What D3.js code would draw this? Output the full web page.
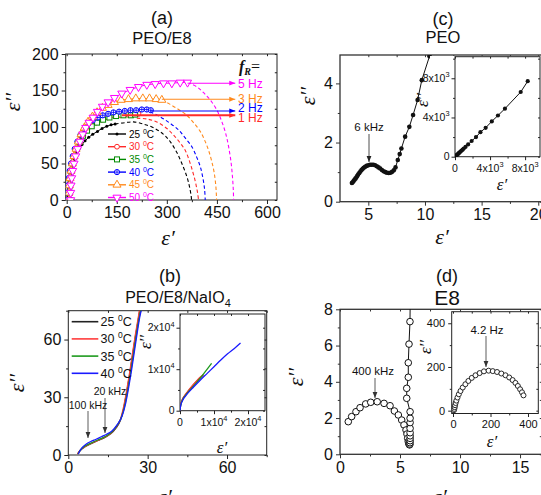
<!DOCTYPE html>
<html><head><meta charset="utf-8">
<script src="https://cdn.jsdelivr.net/npm/d3@7"></script>
<style>body{margin:0;background:#fff}svg{display:block}</style>
</head><body>
<svg id="c" width="541" height="495"></svg>
<script>
// ---------------- DATA ----------------
// Panel (a) PEO/E8 : eps' , eps'' per temperature
const tempsA = ["25", "30", "35", "40", "45", "50"];
const a25 = [[3,0],[3,6],[4,12],[5,18],[6,24],[8,30],[10,36],[13,42],[16,48],[20,54],[25,60],[31,66],[38,71],[46,76],[55,81],[66,86],[78,90],[92,94],[106,98],[120,101],[133,103],[145,104]];
const a30 = [[6,0],[6,10],[7,20],[9,30],[12,40],[16,50],[21,60],[28,70],[36,80],[46,88],[58,95],[72,101],[88,106],[105,110],[123,113],[142,115],[162,116],[182,117],[202,118],[215,118]];
const a35 = [[9,0],[9,10],[10,20],[12,30],[15,40],[19,50],[24,60],[31,70],[39,80],[49,88],[61,95],[75,101],[91,106],[109,110],[128,113],[148,115],[170,116],[192,116],[205,117]];
const a40 = [[2,0],[2,10],[4,20],[6,30],[9,40],[13,50],[18,60],[24,70],[32,80],[41,89],[52,97],[64,104],[78,109],[93,113],[108,116],[124,118],[140,120],[157,121],[174,122],[191,123],[208,123],[225,124],[240,124],[252,123]];
const a45 = [[7,0],[7,10],[8,20],[10,30],[13,40],[17,50],[22,60],[28,70],[35,80],[43,90],[53,99],[64,107],[77,114],[91,120],[107,126],[124,130],[143,134],[163,137],[185,138],[207,139],[228,139],[248,139],[268,138],[285,137]];
const a50 = [[12,0],[12,10],[13,20],[15,30],[18,40],[22,50],[27,60],[33,70],[40,80],[48,90],[57,99],[67,106],[79,113],[92,121],[107,128],[124,134],[143,140],[165,146],[190,151],[215,155],[240,158],[265,159],[290,160],[315,160],[340,161],[362,161]];
// dashed semicircle fits
const arc25 = [[145,104],[175,106],[200,107],[230,104],[260,99],[290,90],[310,80],[330,65],[345,50],[360,32],[368,18],[373,5],[374,0]];
const arc30 = [[210,112],[240,111],[270,107],[300,98],[320,89],[340,78],[355,68],[368,53],[378,38],[386,24],[392,10],[395,0]];
const arc40 = [[250,121],[280,114],[310,105],[335,96],[355,85],[375,73],[390,58],[400,46],[408,30],[413,15],[415,0]];
const arc45 = [[285,137],[310,131],[335,124],[360,116],[380,106],[400,94],[415,80],[425,68],[435,52],[442,37],[447,18],[449,0]];
const arc50 = [[362,161],[390,155],[410,147],[430,137],[450,123],[465,107],[477,90],[485,73],[492,53],[496,35],[499,15],[500,0]];
// relaxation-frequency arrows
const fLabels = ["1 Hz", "2 Hz", "3 Hz", "5 Hz"];
const fLevels = [116, 122, 138, 160];
const fStart  = [165, 250, 285, 362];

// Panel (b) PEO/E8/NaIO4
const tempsB = ["25", "30", "35", "40"];
const b25 = [[3.5,0.5],[4,1.5],[5,3],[6,4],[8,5.5],[10,6.8],[12,8],[14,9.3],[16,11],[18,14],[19.7,18],[20.9,24],[22,32],[23.1,41],[24.2,51],[25.3,61],[26.4,70],[27.1,76]];
const b30 = [[3.5,0.5],[4,1.6],[5,3.1],[6,4.1],[8,5.6],[10,6.9],[12,8.1],[14,9.4],[16,11.2],[18,14.3],[19.7,18.5],[20.9,25],[22,33],[23.1,42],[24.2,52],[25.3,62],[26.4,71],[27,76]];
const b35 = [[3.7,0.5],[4.2,1.8],[5.2,3.5],[6.5,4.8],[8.5,6.2],[10.5,7.4],[12.5,8.6],[14.5,10],[16.5,12],[18.5,15.5],[20.2,20],[21.4,26],[22.5,34],[23.6,43],[24.7,53],[25.8,63],[26.9,72],[27.5,76]];
const b40 = [[3.8,0.5],[4.3,2],[5.3,4],[6.7,5.6],[8.5,7],[10.5,8.2],[12.5,9.5],[14.5,10.8],[16.5,12.5],[18.5,15.8],[20.4,20.5],[21.7,27],[22.8,35],[23.9,44],[25,54],[26.1,64],[27.2,73],[27.8,76]];
const bi25 = [[0,0],[150,1200],[400,2000],[800,2800],[1500,3700],[2500,4800],[3500,5800],[4800,7000],[6000,8000],[6800,8600]];
const bi30 = [[0,0],[150,1300],[400,2100],[800,2900],[1500,3800],[2500,4900],[3500,5900],[4800,7100],[6000,8100],[6900,8700]];
const bi35 = [[0,0],[150,1100],[400,1900],[800,2700],[1500,3600],[2500,4600],[3500,5500],[5000,6900],[6500,8400],[8000,10000],[9300,11400]];
const bi40 = [[0,0],[150,1000],[400,1800],[800,2500],[1500,3400],[2500,4400],[4000,5700],[6000,7400],[8000,9000],[10000,10600],[12000,12200],[14000,13700],[16000,15000],[17800,16300]];

// Panel (c) PEO
const cMain = [[3.55,0.63],[3.62,0.66],[3.7,0.7],[3.78,0.74],[3.86,0.78],[3.94,0.82],[4.02,0.87],[4.1,0.92],[4.2,0.97],[4.3,1.02],[4.4,1.07],[4.5,1.11],[4.6,1.15],[4.72,1.18],[4.85,1.21],[5.0,1.23],[5.15,1.25],[5.3,1.25],[5.45,1.25],[5.6,1.23],[5.75,1.2],[5.9,1.16],[6.05,1.12],[6.2,1.07],[6.35,1.03],[6.5,1.0],[6.65,0.98],[6.8,0.97],[6.95,0.98],[7.1,1.01],[7.25,1.06],[7.4,1.16],[7.6,1.41],[7.77,1.61],[7.92,1.8],[8.25,2.2],[8.62,2.53],[8.95,2.93],[9.35,3.44],[9.72,4.11],[10.4,4.92]];
const cInset = [[0,0],[60,50],[120,100],[180,150],[250,200],[320,260],[400,330],[480,400],[570,470],[660,550],[760,630],[870,720],[1000,830],[1200,1000],[1500,1250],[1900,1600],[2400,2000],[2900,2500],[3500,2950],[4200,3600],[4900,4200],[5700,4900],[7500,6600],[8300,7700]];

// Panel (d) E8
const dMain = [[0.69,1.8],[0.97,2.08],[1.33,2.35],[1.67,2.57],[2.14,2.78],[2.56,2.87],[3.1,2.9],[3.67,2.81],[4.17,2.68],[4.53,2.39],[4.86,2.17],[5.14,1.89],[5.33,1.62],[5.5,1.34],[5.58,1.12],[5.64,0.88],[5.69,0.7],[5.73,0.6],[5.77,0.54],[5.8,0.52],[5.82,0.56],[5.83,0.64],[5.84,0.75],[5.84,0.88],[5.84,1.02],[5.84,1.19],[5.84,1.43],[5.84,1.75],[5.84,1.99],[5.84,2.35],[5.56,3.09],[5.56,3.64],[5.69,4.25],[5.69,5.05],[5.75,6.08],[5.83,7.32],[5.86,9.0]];
const dInset = [[5,2],[7,8],[9,16],[11,25],[14,35],[18,46],[24,60],[31,75],[40,90],[52,106],[66,121],[82,136],[100,150],[120,162],[142,172],[165,180],[190,183],[212,181],[235,177],[258,170],[280,162],[300,152],[318,140],[333,127],[346,113],[358,98],[368,84],[376,70]];

// ---------------- DRAWING ----------------
const svg = d3.select("#c");
const SANS = "'Liberation Sans', Arial, sans-serif";
const SERIF = "'Liberation Serif', 'Times New Roman', serif";
const defs = svg.append("defs");

function arrowMarker(id, color, s) {
  defs.append("marker").attr("id", id).attr("viewBox", "0 0 10 10").attr("refX", 10).attr("refY", 5)
    .attr("markerWidth", s).attr("markerHeight", s).attr("orient", "auto").attr("markerUnits", "userSpaceOnUse")
    .append("path").attr("d", "M0,1 L10,5 L0,9 Z").attr("fill", color);
}

function sci(v) {
  if (v === 0) return ["0", null];
  const e = Math.floor(Math.log10(v) + 1e-9);
  return [Math.round(v / Math.pow(10, e)) + "x10", String(e)];
}

function panel(o) {
  const x = d3.scaleLinear().domain(o.xd).range([o.L, o.R]);
  const y = d3.scaleLinear().domain(o.yd).range([o.B, o.T]);
  const g = svg.append("g");
  defs.append("clipPath").attr("id", "clip" + o.id).append("rect")
    .attr("x", o.L).attr("y", o.T).attr("width", o.R - o.L).attr("height", o.B - o.T);
  const tl = o.tl, ml = o.tl * 0.55, col = o.col || "#222";
  const fmt = o.sci ? () => "" : d3.format("d");
  const style = (sel) => {
    sel.select(".domain").remove();
    sel.selectAll("line").attr("stroke", col).attr("stroke-width", 1);
    sel.selectAll("text").attr("font-size", o.fs).attr("font-family", SANS).attr("fill", "#111");
  };
  const A = (axis, tv, size, f) => axis.tickValues(tv).tickSizeInner(size).tickSizeOuter(0).tickPadding(o.pad || 3).tickFormat(f);
  g.append("g").attr("transform", `translate(0,${o.B})`).call(A(d3.axisBottom(x), o.xt, tl, fmt)).call(style);
  g.append("g").attr("transform", `translate(0,${o.B})`).call(A(d3.axisBottom(x), o.xm, ml, () => "")).call(style);
  g.append("g").attr("transform", `translate(${o.L},0)`).call(A(d3.axisLeft(y), o.yt, tl, fmt)).call(style);
  g.append("g").attr("transform", `translate(${o.L},0)`).call(A(d3.axisLeft(y), o.ym, ml, () => "")).call(style);
  g.append("g").attr("transform", `translate(0,${o.T})`).call(A(d3.axisTop(x), o.xt.concat(o.xm), -ml, () => "")).call(style);
  g.append("g").attr("transform", `translate(${o.R},0)`).call(A(d3.axisRight(y), o.yt.concat(o.ym), -ml, () => "")).call(style);
  if (o.sci) {
    o.xt.forEach(v => {
      const [m, e] = sci(v);
      const t = g.append("text").attr("x", x(v)).attr("y", o.B + tl + o.fs + 1).attr("text-anchor", "middle")
        .attr("font-size", o.fs).attr("font-family", SANS).attr("fill", "#111");
      t.append("tspan").text(m);
      if (e) t.append("tspan").attr("dy", -o.fs * 0.45).attr("font-size", o.fs * 0.7).text(e);
    });
    o.yt.forEach(v => {
      const [m, e] = sci(v);
      const t = g.append("text").attr("x", o.L - tl - 2).attr("y", y(v) + o.fs * 0.35).attr("text-anchor", "end")
        .attr("font-size", o.fs).attr("font-family", SANS).attr("fill", "#111");
      t.append("tspan").text(m);
      if (e) t.append("tspan").attr("dy", -o.fs * 0.45).attr("font-size", o.fs * 0.7).text(e);
    });
  }
  g.append("rect").attr("x", o.L).attr("y", o.T).attr("width", o.R - o.L).attr("height", o.B - o.T)
    .attr("fill", "none").attr("stroke", col).attr("stroke-width", o.fw || 1);
  const plot = g.append("g").attr("clip-path", `url(#clip${o.id})`);
  return { x, y, g, plot };
}

function label(txt, xx, yy, size, rot, opts = {}) {
  const t = svg.append("text").attr("x", xx).attr("y", yy).attr("text-anchor", "middle")
    .attr("font-size", size).attr("font-family", opts.family || SANS).attr("fill", "#111")
    .attr("font-style", opts.italic ? "italic" : "normal");
  if (rot) t.attr("transform", `rotate(${rot},${xx},${yy})`);
  t.text(txt);
  return t;
}
const EPP = "\u03B5\u2032\u2032", EP = "\u03B5\u2032";
const TF = 16; // main tick font

// ---------- Panel (a) ----------
{
  const P = panel({ id: "a", L: 65.7, R: 277, T: 54, B: 200, xd: [-3, 630], yd: [0, 200],
    xt: [0, 150, 300, 450, 600], xm: [75, 225, 375, 525], yt: [0, 50, 100, 150, 200], ym: [25, 75, 125, 175], tl: 4, fs: TF });
  const { x, y, plot } = P;
  const colors = ["#000000", "#ff2a2a", "#008a00", "#0000ff", "#ff8a1c", "#ff00ff"];
  const series = [a25, a30, a35, a40, a45, a50];
  const arcs = [[arc25, 0], [arc30, 1], [arc40, 3], [arc45, 4], [arc50, 5]];
  const line = d3.line().x(d => x(d[0])).y(d => y(d[1]));
  const cline = d3.line().x(d => x(d[0])).y(d => y(d[1])).curve(d3.curveCatmullRom);
  arcs.forEach(([pts, i]) => plot.append("path").attr("d", cline(pts)).attr("fill", "none")
    .attr("stroke", colors[i]).attr("stroke-width", 1.1).attr("stroke-dasharray", "3.5,2.5"));
  const fCol = [colors[1], colors[3], colors[4], colors[5]];
  fLevels.forEach((lv, i) => {
    arrowMarker("am" + i, fCol[i], 6);
    svg.append("line").attr("x1", x(fStart[i])).attr("x2", x(505)).attr("y1", y(lv)).attr("y2", y(lv))
      .attr("stroke", fCol[i]).attr("stroke-width", i === 0 ? 2 : 1.1).attr("marker-end", `url(#am${i})`);
  });
  const fTy = [117.5, 107.5, 99, 84];
  fLabels.forEach((t, i) => svg.append("text").attr("x", 238).attr("y", fTy[i] + 4.3).attr("font-size", 12)
    .attr("font-family", SANS).attr("fill", fCol[i]).text(t));
  const marker = (sel, i, cx, cy) => {
    const c = colors[i];
    if (i === 0) sel.append("circle").attr("cx", cx).attr("cy", cy).attr("r", 1.5).attr("fill", c);
    else if (i === 1) sel.append("circle").attr("cx", cx).attr("cy", cy).attr("r", 2.4).attr("fill", "white").attr("stroke", c);
    else if (i === 2) sel.append("rect").attr("x", cx - 2.5).attr("y", cy - 2.5).attr("width", 5).attr("height", 5).attr("fill", "white").attr("stroke", c);
    else if (i === 3) {
      sel.append("circle").attr("cx", cx).attr("cy", cy).attr("r", 2.6).attr("fill", "white").attr("stroke", c);
      sel.append("path").attr("d", `M${cx - 2.6},${cy}H${cx + 2.6}M${cx},${cy - 2.6}V${cy + 2.6}`).attr("stroke", c).attr("stroke-width", 0.8);
    } else if (i === 4) sel.append("path").attr("d", d3.symbol(d3.symbolTriangle, 28)()).attr("transform", `translate(${cx},${cy})`).attr("fill", "white").attr("stroke", c);
    else sel.append("path").attr("d", d3.symbol(d3.symbolTriangle, 28)()).attr("transform", `translate(${cx},${cy}) rotate(180)`).attr("fill", "white").attr("stroke", c);
  };
  series.forEach((s, i) => {
    plot.append("path").attr("d", line(s)).attr("fill", "none").attr("stroke", colors[i]).attr("stroke-width", 1);
  });
  series.forEach((s, i) => {
    const gg = plot.append("g");
    s.forEach(d => marker(gg, i, x(d[0]), y(d[1])));
  });
  const ly0 = 134, ldy = 12.7;
  tempsA.forEach((t, i) => {
    const yy = ly0 + i * ldy;
    svg.append("line").attr("x1", 108).attr("x2", 126).attr("y1", yy).attr("y2", yy).attr("stroke", colors[i]).attr("stroke-width", 1.4);
    marker(svg, i, 117, yy);
    const tx = svg.append("text").attr("x", 129).attr("y", yy + 3.5).attr("font-size", 10).attr("font-family", SANS).attr("fill", colors[i]);
    tx.append("tspan").text(t + " ");
    tx.append("tspan").attr("dy", -4).attr("font-size", 7).text("0");
    tx.append("tspan").attr("dy", 4).text("C");
  });
  const fr = svg.append("text").attr("x", 239).attr("y", 72).attr("font-size", 16).attr("font-family", SERIF)
    .attr("font-weight", "bold").attr("font-style", "italic").attr("fill", "#111");
  fr.append("tspan").text("f");
  fr.append("tspan").attr("dy", 3).attr("font-size", 10).text("R");
  fr.append("tspan").attr("dy", -3).attr("font-style", "normal").attr("font-weight", "normal").text("=");
  label("(a)", 162, 24, 18);
  label("PEO/E8", 162, 44, 16.5);
  label(EPP, 20, 102, 22, -90, { family: SERIF, italic: true });
  label(EP, 168, 245, 22, 0, { family: SERIF, italic: true });
}

// ---------- Panel (c) ----------
{
  const P = panel({ id: "c", L: 340, R: 542, T: 55, B: 201.7, xd: [2.5, 20.33], yd: [0, 4.96],
    xt: [5, 10, 15, 20], xm: [7.5, 12.5, 17.5], yt: [0, 2, 4], ym: [1, 3], tl: 4, fs: TF, col: "#333", fw: 1.3 });
  const { x, y, plot } = P;
  const line = d3.line().x(d => x(d[0])).y(d => y(d[1]));
  plot.append("path").attr("d", line(cMain)).attr("fill", "none").attr("stroke", "#111").attr("stroke-width", 1);
  plot.selectAll(null).data(cMain).join("circle").attr("cx", d => x(d[0])).attr("cy", d => y(d[1])).attr("r", 2.3).attr("fill", "#111");
  arrowMarker("ak", "#222", 6);
  svg.append("line").attr("x1", 369).attr("x2", 369).attr("y1", 134).attr("y2", 162).attr("stroke", "#222").attr("stroke-width", 0.8).attr("marker-end", "url(#ak)");
  label("6 kHz", 369, 131, 11.5);
  svg.append("rect").attr("x", 430).attr("y", 56).attr("width", 111).attr("height", 140).attr("fill", "white");
  const I = panel({ id: "ci", L: 455, R: 540, T: 56.7, B: 156.7, xd: [0, 9700], yd: [0, 10200],
    xt: [0, 4000, 8000], xm: [2000, 6000], yt: [0, 4000, 8000], ym: [2000, 6000, 10000], tl: 3.5, fs: 10.5, sci: true, col: "#222" });
  const il = d3.line().x(d => I.x(d[0])).y(d => I.y(d[1]));
  I.plot.append("path").attr("d", il(cInset)).attr("fill", "none").attr("stroke", "#111").attr("stroke-width", 1);
  I.plot.selectAll(null).data(cInset).join("circle").attr("cx", d => I.x(d[0])).attr("cy", d => I.y(d[1])).attr("r", 2.1).attr("fill", "#111");
  label(EPP, 428, 100, 17, -90, { family: SERIF, italic: true });
  label(EP, 502, 190, 17, 0, { family: SERIF, italic: true });
  label("(c)", 443, 25, 18);
  label("PEO", 443, 43, 16.5);
  label(EPP, 315, 96, 22, -90, { family: SERIF, italic: true });
  label(EP, 442, 244, 22, 0, { family: SERIF, italic: true });
}

// ---------- Panel (b) ----------
{
  const P = panel({ id: "b", L: 68.3, R: 266.7, T: 310.7, B: 455, xd: [0, 75], yd: [0, 75],
    xt: [0, 30, 60], xm: [15, 45, 75], yt: [0, 30, 60], ym: [15, 45, 75], tl: 4, fs: TF });
  const { x, y, plot } = P;
  const colors = ["#222222", "#ff3b3b", "#1e9a1e", "#1a1aff"];
  const line = d3.line().x(d => x(d[0])).y(d => y(d[1])).curve(d3.curveMonotoneX);
  [b25, b30, b35, b40].forEach((s, i) => plot.append("path").attr("d", line(s)).attr("fill", "none").attr("stroke", colors[i]).attr("stroke-width", 1.3));
  arrowMarker("ab", "#333", 6);
  svg.append("line").attr("x1", 88).attr("x2", 88).attr("y1", 411).attr("y2", 438).attr("stroke", "#333").attr("stroke-width", 0.8).attr("marker-end", "url(#ab)");
  svg.append("line").attr("x1", 105).attr("x2", 105).attr("y1", 398).attr("y2", 433).attr("stroke", "#333").attr("stroke-width", 0.8).attr("marker-end", "url(#ab)");
  label("100 kHz", 88, 409, 10.5);
  label("20 kHz", 110, 395, 10.5);
  tempsB.forEach((t, i) => {
    const yy = 321.7 + i * 17.2;
    svg.append("line").attr("x1", 71.7).attr("x2", 98.3).attr("y1", yy).attr("y2", yy).attr("stroke", colors[i]).attr("stroke-width", 1.6);
    const tx = svg.append("text").attr("x", 100.5).attr("y", yy + 4.5).attr("font-size", 12.5).attr("font-family", SANS).attr("fill", "#111");
    tx.append("tspan").text(t + " ");
    tx.append("tspan").attr("dy", -5).attr("font-size", 8.5).text("0");
    tx.append("tspan").attr("dy", 5).text("C");
  });
  const I = panel({ id: "bi", L: 180, R: 265, T: 314, B: 410.7, xd: [0, 25000], yd: [0, 23300],
    xt: [0, 10000, 20000], xm: [5000, 15000], yt: [0, 10000, 20000], ym: [5000, 15000], tl: 3.5, fs: 10.5, sci: true });
  const il = d3.line().x(d => I.x(d[0])).y(d => I.y(d[1])).curve(d3.curveMonotoneX);
  [bi25, bi30, bi35, bi40].forEach((s, i) => I.plot.append("path").attr("d", il(s)).attr("fill", "none").attr("stroke", colors[i]).attr("stroke-width", 1.3));
  label(EPP, 151, 342, 17, -90, { family: SERIF, italic: true });
  label(EP, 222, 453, 17, 0, { family: SERIF, italic: true });
  label("(b)", 170, 282, 18);
  const tt = svg.append("text").attr("x", 178).attr("y", 303).attr("text-anchor", "middle").attr("font-size", 16).attr("font-family", SANS).attr("fill", "#111");
  tt.append("tspan").text("PEO/E8/NaIO");
  tt.append("tspan").attr("dy", 4).attr("font-size", 11).text("4");
  label(EPP, 24, 383, 22, -90, { family: SERIF, italic: true });
  label(EP, 165, 504, 22, 0, { family: SERIF, italic: true });
}

// ---------- Panel (d) ----------
{
  const P = panel({ id: "d", L: 340, R: 542, T: 309.3, B: 454.3, xd: [0, 16.83], yd: [0, 8],
    xt: [0, 5, 10, 15], xm: [2.5, 7.5, 12.5], yt: [0, 2, 4, 6, 8], ym: [1, 3, 5, 7], tl: 4, fs: TF, col: "#333", fw: 1.3 });
  const { x, y, plot } = P;
  const line = d3.line().x(d => x(d[0])).y(d => y(d[1]));
  plot.append("path").attr("d", line(dMain)).attr("fill", "none").attr("stroke", "#111").attr("stroke-width", 1);
  plot.selectAll(null).data(dMain).join("circle").attr("cx", d => x(d[0])).attr("cy", d => y(d[1])).attr("r", 3.3)
    .attr("fill", "white").attr("stroke", "#111").attr("stroke-width", 1);
  arrowMarker("ad", "#333", 6);
  svg.append("line").attr("x1", 375).attr("x2", 375).attr("y1", 378).attr("y2", 398).attr("stroke", "#333").attr("stroke-width", 0.8).attr("marker-end", "url(#ad)");
  label("400 kHz", 373, 375, 11.5);
  const I = panel({ id: "di", L: 451.7, R: 538.3, T: 311.7, B: 413.5, xd: [-7, 455], yd: [-13, 453],
    xt: [0, 200, 400], xm: [100, 300], yt: [0, 200, 400], ym: [100, 300], tl: 3.5, fs: 11 });
  I.plot.selectAll(null).data(dInset).join("circle").attr("cx", d => I.x(d[0])).attr("cy", d => I.y(d[1])).attr("r", 2.5)
    .attr("fill", "white").attr("stroke", "#111").attr("stroke-width", 0.9);
  arrowMarker("ad2", "#333", 6);
  svg.append("line").attr("x1", 486).attr("x2", 486).attr("y1", 336).attr("y2", 367).attr("stroke", "#333").attr("stroke-width", 0.8).attr("marker-end", "url(#ad2)");
  label("4.2 Hz", 487, 334, 11.5);
  label(EPP, 431, 347, 17, -90, { family: SERIF, italic: true });
  label(EP, 492, 447, 17, 0, { family: SERIF, italic: true });
  label("(d)", 447, 282, 18);
  label("E8", 447, 305, 21);
  label(EPP, 303, 377, 22, -90, { family: SERIF, italic: true });
  label(EP, 440, 504, 22, 0, { family: SERIF, italic: true });
}
</script>
</body></html>
